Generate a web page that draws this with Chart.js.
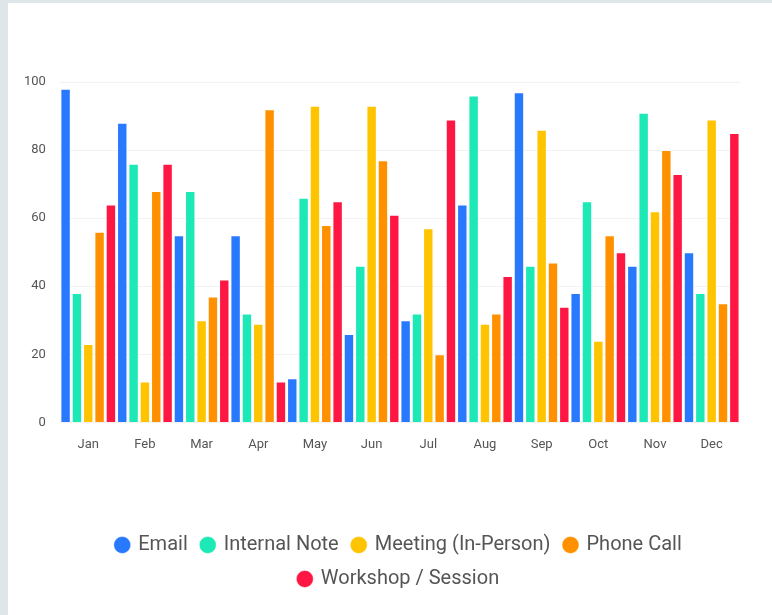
<!DOCTYPE html>
<html>
<head>
<meta charset="utf-8">
<script src="https://cdn.jsdelivr.net/npm/chart.js@4/dist/chart.umd.min.js"></script>
<style>
  html, body { margin: 0; padding: 0; background: #dfe6ea; width: 772px; height: 615px; overflow: hidden; }
  #card { position: absolute; left: 8px; top: 3px; width: 782px; height: 612px; background: #ffffff; overflow: hidden; }
  canvas { display: block; }
</style>
</head>
<body>
<div id="card"><canvas id="c" width="782" height="612"></canvas></div>
<script>
const months = ['Jan','Feb','Mar','Apr','May','Jun','Jul','Aug','Sep','Oct','Nov','Dec'];
const seriesNames = ['Email','Internal Note','Meeting (In-Person)','Phone Call','Workshop / Session'];
const emailValues    = [98, 88, 55, 55, 13, 26, 30, 64, 97, 38, 46, 50];
const internalValues = [38, 76, 68, 32, 66, 46, 32, 96, 46, 65, 91, 38];
const meetingValues  = [23, 12, 30, 29, 93, 93, 57, 29, 86, 24, 62, 89];
const phoneValues    = [56, 68, 37, 92, 58, 77, 20, 32, 47, 55, 80, 35];
const workshopValues = [64, 76, 42, 12, 65, 61, 89, 43, 34, 50, 73, 85];
const yTicks = [0, 20, 40, 60, 80, 100];
const colors = ['#2979ff', '#1de9b6', '#ffc400', '#ff9100', '#ff1744'];

const allValues = [emailValues, internalValues, meetingValues, phoneValues, workshopValues];
const datasets = seriesNames.map((name, i) => ({
  label: name,
  data: allValues[i],
  backgroundColor: colors[i],
  borderColor: 'rgba(255,255,255,0.4)',
  borderWidth: 1,
  barPercentage: 0.92,
  categoryPercentage: 1.0
}));

new Chart(document.getElementById('c'), {
  type: 'bar',
  data: { labels: months, datasets },
  options: {
    responsive: false,
    animation: false,
    layout: { padding: { top: 79, left: 2, right: 2, bottom: 16 } },
    plugins: {
      tooltip: { enabled: false },
      legend: {
        position: 'bottom',
        title: { display: true, text: ' ', padding: { top: 28, bottom: 21 }, font: { family: 'Roboto', size: 10 } },
        labels: {
          usePointStyle: true,
          pointStyle: 'circle',
          boxWidth: 12,
          boxHeight: 12,
          padding: 14,
          color: '#555',
          font: { family: 'Roboto', size: 20 }
        }
      }
    },
    scales: {
      x: {
        grid: { display: false },
        border: { display: false },
        ticks: { color: '#555', padding: 7, font: { family: 'Roboto', size: 13 } }
      },
      y: {
        min: 0,
        max: 100,
        afterBuildTicks: (axis) => { axis.ticks = yTicks.map(v => ({ value: v })); },
        grid: { color: 'rgba(0,0,0,0.05)', drawTicks: false },
        border: { display: false },
        ticks: { color: '#555', padding: 14, font: { family: 'Roboto', size: 13 } }
      },
      rightSpace: {
        type: 'linear',
        position: 'right',
        display: true,
        grid: { display: false },
        border: { display: false },
        ticks: { display: false },
        afterFit: (axis) => { axis.width = 48; }
      }
    }
  }
});
</script>
</body>
</html>
